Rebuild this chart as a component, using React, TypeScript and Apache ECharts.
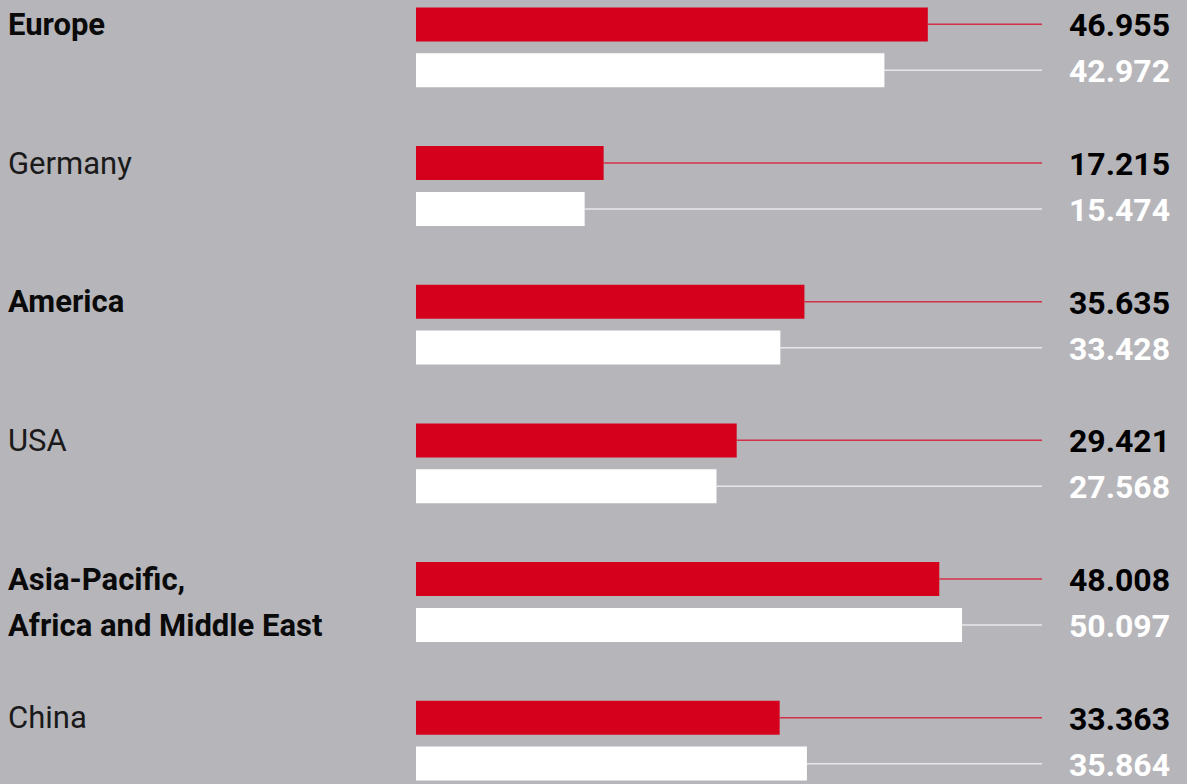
import React, { useEffect, useRef } from "react";
import * as echarts from "echarts";

const categories = ["Europe", "Germany", "America", "USA", "Asia-Pacific,\nAfrica and Middle East", "China"];
const boldCategory = [true, false, true, false, true, false];
const currentYear = [46.955, 17.215, 35.635, 29.421, 48.008, 33.363];
const previousYear = [42.972, 15.474, 33.428, 27.568, 50.097, 35.864];
const currentLabels = ["46.955", "17.215", "35.635", "29.421", "48.008", "33.363"];
const previousLabels = ["42.972", "15.474", "33.428", "27.568", "50.097", "35.864"];

const RED = "#d5001c";
const WHITE = "#ffffff";
const BG = "#b6b5ba";
const FONT = "Roboto";

function leaderSeries(values: number[], labels: string[], offset: number, lineColor: string, textColor: string, z: number) {
  return {
    type: "custom",
    z,
    encode: { x: 0, y: 1 },
    data: values.map((v, i) => [v, i]),
    renderItem: (params: any, api: any) => {
      const end = api.coord([api.value(0), api.value(1)]);
      const cs = params.coordSys;
      const y = end[1] + offset;
      const right = cs.x + cs.width;
      return {
        type: "group",
        children: [
          {
            type: "line",
            shape: { x1: end[0], y1: y, x2: right - 137, y2: y },
            style: { stroke: lineColor, lineWidth: 1.5 },
          },
          {
            type: "text",
            style: {
              text: labels[params.dataIndex],
              x: right - 9,
              y: y + 1,
              align: "right",
              verticalAlign: "middle",
              fill: textColor,
              fontFamily: FONT,
              fontWeight: "bold",
              fontSize: 32,
            },
          },
        ],
      };
    },
  };
}

export default function App() {
  const ref = useRef<HTMLDivElement>(null);
  useEffect(() => {
    if (!ref.current) return;
    const chart = echarts.init(ref.current, undefined, { renderer: "svg" });
    chart.setOption({
      animation: false,
      backgroundColor: BG,
      grid: { left: 416, right: 8, top: 0, bottom: 0 },
      xAxis: { type: "value", min: 0, max: 70, show: false },
      yAxis: {
        type: "category",
        data: categories,
        inverse: true,
        axisLine: { show: false },
        axisTick: { show: false },
        splitLine: { show: false },
        axisLabel: {
          align: "left",
          margin: 408,
          formatter: (value: string, idx: number) => {
            const lines = value.split("\n");
            if (lines.length === 1) lines.push(" ");
            const st = boldCategory[idx] ? "b" : "n";
            return lines.map((l) => `{${st}|${l}}`).join("\n");
          },
          rich: {
            b: { fontFamily: FONT, fontWeight: "bold", fontSize: 31, lineHeight: 46, color: "#0a0a0a" },
            n: { fontFamily: FONT, fontWeight: "normal", fontSize: 31, lineHeight: 46, color: "#1a1a1a" },
          },
        },
      },
      series: [
        {
          type: "bar",
          data: currentYear,
          barWidth: 34,
          barGap: "35%",
          itemStyle: { color: RED },
          z: 3,
        },
        {
          type: "bar",
          data: previousYear,
          barWidth: 34,
          barGap: "35%",
          itemStyle: { color: WHITE },
          z: 3,
        },
        leaderSeries(currentYear, currentLabels, -23, "#d23148", "#000000", 2),
        leaderSeries(previousYear, previousLabels, 23, "#e8e8ea", "#ffffff", 2),
      ],
    });
    return () => chart.dispose();
  }, []);
  return (
    <div style={{ position: "fixed", left: 0, top: 0, width: 1187, height: 784, overflow: "hidden", background: BG }}>
      <div
        ref={ref}
        style={{ position: "absolute", left: 0, top: -22, width: 1187, height: 832 }}
      />
    </div>
  );
}
